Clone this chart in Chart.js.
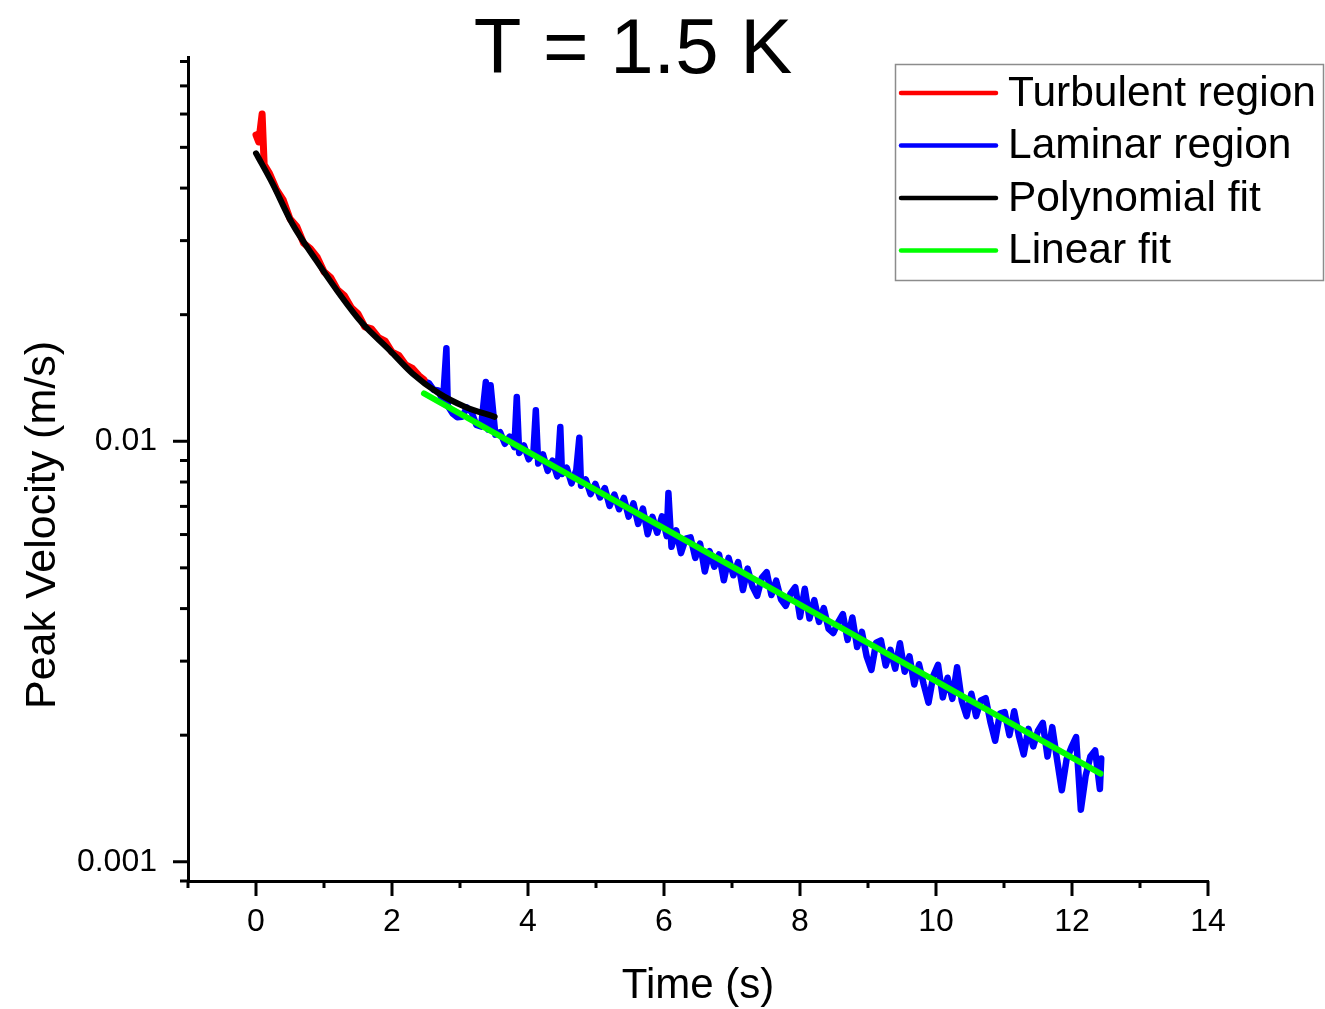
<!DOCTYPE html>
<html>
<head>
<meta charset="utf-8">
<title>T = 1.5 K</title>
<script src="https://cdn.jsdelivr.net/npm/chart.js@4.4.1/dist/chart.umd.min.js"></script>
<style>
  body { margin: 0; background: #fff; }
  #wrap { width: 1325px; height: 1009px; }
</style>
</head>
<body>
<div id="wrap"><canvas id="chart" width="1325" height="1009"></canvas></div>
<script>
// Data (time in s, peak velocity in m/s)
const turbTime = [0.00, 0.04, 0.09, 0.12, 0.20, 0.30, 0.40, 0.50, 0.60, 0.70, 0.80, 0.90, 1.00, 1.10,
  1.20, 1.30, 1.40, 1.50, 1.60, 1.70, 1.80, 1.90, 2.00, 2.10, 2.20, 2.30, 2.40, 2.47];
const turbVel = [0.0535, 0.0515, 0.0600, 0.0455, 0.0433, 0.0397, 0.0375, 0.0338, 0.0324, 0.0296, 0.0287, 0.0274, 0.0253, 0.0245,
  0.0229, 0.0222, 0.0208, 0.0201, 0.0187, 0.0185, 0.01765, 0.0173, 0.0163, 0.0160, 0.0152, 0.0149, 0.0143, 0.0140];

const lamTime = [
  2.47, 2.54, 2.61, 2.68, 2.75, 2.80, 2.82, 2.89, 2.96, 3.03,
  3.10, 3.17, 3.24, 3.31, 3.38, 3.415, 3.45, 3.52, 3.59, 3.66,
  3.73, 3.80, 3.835, 3.87, 3.94, 4.01, 4.08, 4.115, 4.15, 4.22,
  4.29, 4.36, 4.43, 4.475, 4.50, 4.57, 4.64, 4.71, 4.755, 4.78,
  4.85, 4.92, 4.99, 5.06, 5.13, 5.20, 5.27, 5.34, 5.41, 5.48,
  5.55, 5.62, 5.69, 5.76, 5.83, 5.90, 5.97, 6.04, 6.065, 6.11,
  6.18, 6.25, 6.32, 6.39, 6.46, 6.53, 6.60, 6.67, 6.74, 6.81,
  6.88, 6.95, 7.02, 7.09, 7.16, 7.23, 7.30, 7.37, 7.44, 7.51,
  7.58, 7.65, 7.72, 7.79, 7.86, 7.93, 8.00, 8.07, 8.14, 8.21,
  8.28, 8.35, 8.42, 8.49, 8.56, 8.63, 8.70, 8.77, 8.84, 8.91,
  8.98, 9.05, 9.12, 9.19, 9.26, 9.33, 9.40, 9.47, 9.54, 9.61,
  9.68, 9.75, 9.82, 9.89, 9.96, 10.03, 10.10, 10.17, 10.24, 10.31,
  10.38, 10.45, 10.52, 10.59, 10.66, 10.73, 10.80, 10.87, 10.94, 11.01,
  11.08, 11.15, 11.22, 11.29, 11.36, 11.43, 11.50, 11.57, 11.64, 11.71,
  11.78, 11.85, 11.92, 11.99, 12.06, 12.13, 12.20, 12.27, 12.34, 12.41,
  12.43
];
const lamVel = [
  0.01388, 0.01376, 0.01326, 0.01321, 0.01246, 0.01664, 0.01215, 0.01165, 0.01141, 0.01143,
  0.01203, 0.01173, 0.01094, 0.01084, 0.01384, 0.01066, 0.01359, 0.01037, 0.01051, 0.00986,
  0.01026, 0.00968, 0.01275, 0.00938, 0.00977, 0.00906, 0.00943, 0.01185, 0.00885, 0.00931,
  0.00850, 0.00899, 0.00825, 0.01081, 0.00836, 0.00865, 0.00794, 0.00854, 0.01020, 0.00784,
  0.00811, 0.00749, 0.00792, 0.00735, 0.00774, 0.00702, 0.00747, 0.00689, 0.00733, 0.00662,
  0.00712, 0.00636, 0.00692, 0.00601, 0.00661, 0.00606, 0.00663, 0.00595, 0.00753, 0.00561,
  0.00614, 0.00542, 0.00587, 0.00591, 0.00528, 0.00571, 0.00490, 0.00548, 0.00503, 0.00538,
  0.00467, 0.00528, 0.00480, 0.00516, 0.00443, 0.00498, 0.00452, 0.00429, 0.00474, 0.00488,
  0.00431, 0.00466, 0.00421, 0.00406, 0.00434, 0.00450, 0.00382, 0.00446, 0.00379, 0.00419,
  0.00372, 0.00401, 0.00358, 0.00350, 0.00371, 0.00388, 0.00337, 0.00381, 0.00324, 0.00352,
  0.00308, 0.00286, 0.00332, 0.00336, 0.00293, 0.00319, 0.00288, 0.00331, 0.00283, 0.00308,
  0.00264, 0.00295, 0.00264, 0.00239, 0.00277, 0.00294, 0.00246, 0.00274, 0.00244, 0.00290,
  0.00241, 0.00222, 0.00251, 0.00222, 0.00242, 0.00245, 0.00215, 0.00194, 0.00225, 0.00227,
  0.00200, 0.00228, 0.00199, 0.00180, 0.00207, 0.00188, 0.00205, 0.00214, 0.00178, 0.00209,
  0.00175, 0.00148, 0.00175, 0.00187, 0.00198, 0.00133, 0.00160, 0.00178, 0.00184, 0.00149,
  0.00176
];

const polyTime = [0.00, 0.24, 0.53, 0.88, 1.22, 1.56, 1.96, 2.30, 2.69, 3.08, 3.51];
const polyVel = [0.0484, 0.0411, 0.0330, 0.0270, 0.0225, 0.0191, 0.0165, 0.0145, 0.0130, 0.01207, 0.01143];

const linTime = [2.47, 12.42];
const linVel = [0.0130, 0.00162];

const xTicks = [0, 2, 4, 6, 8, 10, 12, 14];
const yTicks = [0.001, 0.01];
const yTickLabels = ['0.001', '0.01'];

const FONT = '"Liberation Sans", Arial, sans-serif';

function pts(xs, ys) {
  return xs.map((x, i) => ({ x: x, y: ys[i] }));
}

// Titles, minor/major tick marks and the boxed legend
const decor = {
  id: 'decor',
  afterDraw(chart) {
    const { ctx, chartArea: a, scales: { x, y } } = chart;
    ctx.save();
    ctx.strokeStyle = '#000';
    ctx.lineWidth = 3;
    ctx.lineCap = 'butt';

    for (let t = -1; t <= 14; t++) {
      const px = x.getPixelForValue(t);
      const len = xTicks.includes(t) ? 15 : 7;
      ctx.beginPath();
      ctx.moveTo(px, a.bottom);
      ctx.lineTo(px, a.bottom + len);
      ctx.stroke();
    }
    for (let n = -4; n <= -2; n++) {
      for (let k = 1; k <= 9; k++) {
        const v = k * Math.pow(10, n);
        if (v < y.min * 0.999 || v > y.max * 1.001) continue;
        const py = y.getPixelForValue(v);
        const len = k === 1 ? 15 : 8;
        ctx.beginPath();
        ctx.moveTo(a.left, py);
        ctx.lineTo(a.left - len, py);
        ctx.stroke();
      }
    }

    ctx.fillStyle = '#000';
    ctx.font = '78px ' + FONT;
    ctx.textAlign = 'center';
    ctx.textBaseline = 'alphabetic';
    ctx.fillText('T = 1.5 K', 633, 73);

    ctx.save();
    ctx.translate(43, 525);
    ctx.rotate(-Math.PI / 2);
    ctx.font = '43px ' + FONT;
    ctx.textBaseline = 'middle';
    ctx.fillText('Peak Velocity (m/s)', 0, 0);
    ctx.restore();

    // legend
    ctx.strokeStyle = '#8c8c8c';
    ctx.lineWidth = 1.5;
    ctx.strokeRect(895.5, 64.5, 428, 216);
    ctx.font = '42.5px ' + FONT;
    ctx.textAlign = 'left';
    ctx.textBaseline = 'middle';
    chart.data.datasets.forEach((ds, i) => {
      const ly = 93 + i * 52.5;
      ctx.strokeStyle = ds.borderColor;
      ctx.lineWidth = 4.5;
      ctx.lineCap = 'round';
      ctx.beginPath();
      ctx.moveTo(901, ly);
      ctx.lineTo(996, ly);
      ctx.stroke();
      ctx.fillStyle = '#000';
      ctx.fillText(ds.label, 1008, ly + 1);
    });
    ctx.restore();
  }
};

new Chart(document.getElementById('chart'), {
  type: 'line',
  data: {
    datasets: [
      { label: 'Turbulent region', data: pts(turbTime, turbVel), borderColor: '#ff0000', borderWidth: 7, order: 2 },
      { label: 'Laminar region', data: pts(lamTime, lamVel), borderColor: '#0000ff', borderWidth: 6.5, order: 3 },
      { label: 'Polynomial fit', data: pts(polyTime, polyVel), borderColor: '#000000', borderWidth: 6,
        cubicInterpolationMode: 'monotone', order: 1 },
      { label: 'Linear fit', data: pts(linTime, linVel), borderColor: '#00ff00', borderWidth: 6, order: 0 }
    ]
  },
  options: {
    responsive: false,
    animation: false,
    layout: { padding: { top: 57, right: 117, bottom: 0, left: 0 } },
    elements: {
      point: { radius: 0, hoverRadius: 0 },
      line: { fill: false, tension: 0, borderCapStyle: 'round', borderJoinStyle: 'round' }
    },
    plugins: {
      legend: { display: false },
      tooltip: { enabled: false },
      title: { display: false }
    },
    scales: {
      x: {
        type: 'linear',
        min: -1,
        max: 14,
        afterFit: s => { s.height = 128; },
        afterBuildTicks: s => { s.ticks = xTicks.map(v => ({ value: v })); },
        grid: { display: true, drawOnChartArea: false, drawTicks: true, tickLength: 15, color: 'rgba(0,0,0,0)' },
        border: { display: true, color: '#000', width: 3 },
        ticks: { color: '#000', padding: 7, maxRotation: 0, font: { family: FONT, size: 32 } },
        title: { display: true, text: 'Time (s)', color: '#000', font: { family: FONT, size: 42, lineHeight: 1 },
          padding: { top: 0, bottom: 2 } }
      },
      y: {
        type: 'logarithmic',
        min: 0.0009,
        max: 0.082,
        afterFit: s => { s.width = 188; },
        afterBuildTicks: s => { s.ticks = yTicks.map(v => ({ value: v, major: true })); },
        grid: { display: true, drawOnChartArea: false, drawTicks: true, tickLength: 15, color: 'rgba(0,0,0,0)' },
        border: { display: true, color: '#000', width: 3 },
        ticks: {
          color: '#000', padding: 16, font: { family: FONT, size: 32 },
          callback: (v, i) => yTickLabels[i]
        }
      }
    }
  },
  plugins: [decor]
});
</script>
</body>
</html>
